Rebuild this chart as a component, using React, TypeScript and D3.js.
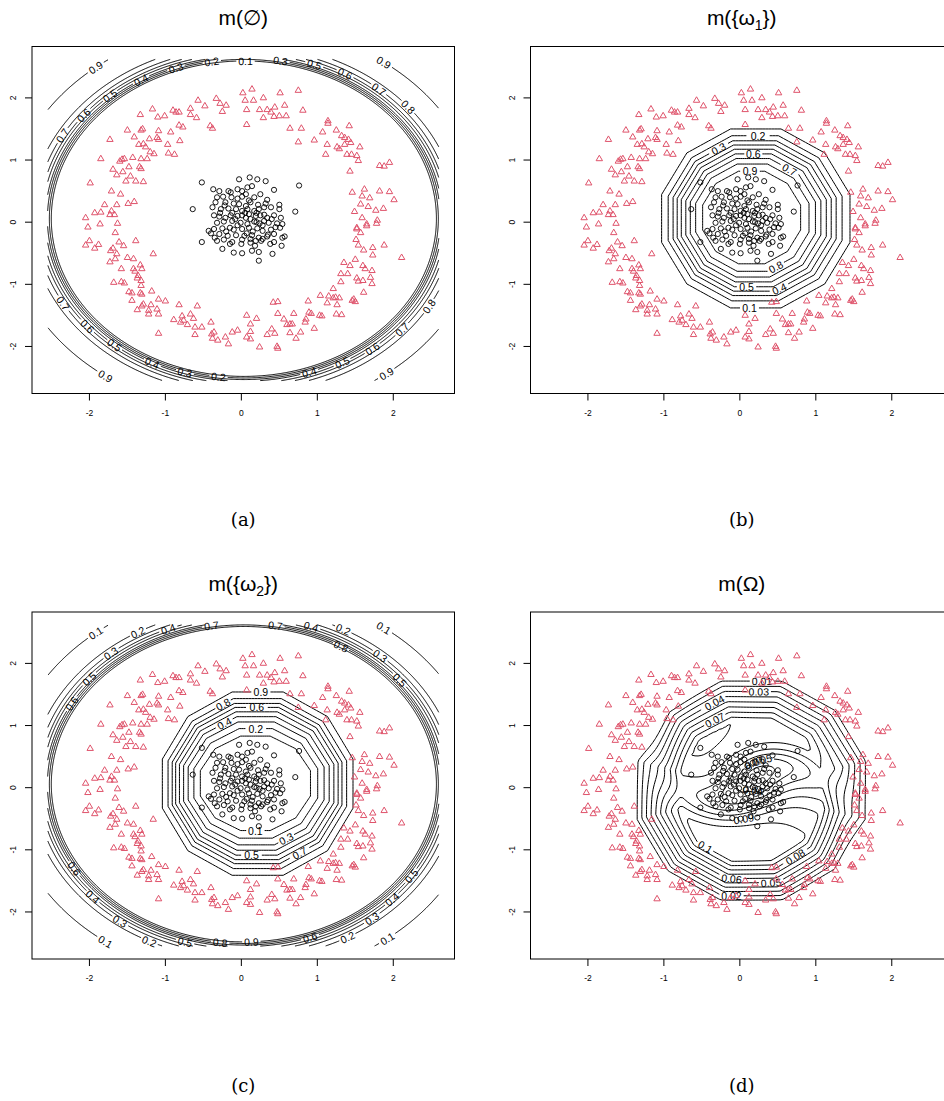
import React, { useMemo } from 'react';
import * as d3 from 'd3';

type P = [number, number];
type Lab = [number, number, number];

// ---------- data ----------
const triangles: P[] = [
  [-0.57,1.96],[-0.33,1.99],[-0.48,1.87],[-0.28,1.91],[-0.20,1.88],[-0.25,1.78],[-1.17,1.82],[-0.90,1.80],[-0.86,1.77],[-0.82,1.77],
  [-0.67,1.83],[-0.67,1.73],[-0.59,1.68],[-1.33,1.73],[-1.10,1.69],[-1.01,1.71],[-1.50,1.48],[-1.32,1.48],[-1.30,1.50],[-1.09,1.47],
  [-0.93,1.45],[-0.82,1.56],[-0.77,1.53],[-0.41,1.55],[-0.38,1.51],[-1.73,1.33],[-1.41,1.37],[-1.21,1.34],[-1.11,1.36],[-1.09,1.33],
  [-0.81,1.31],[-0.97,1.25],[-1.35,1.25],[-1.29,1.26],[-1.26,1.21],[-1.20,1.13],[-1.15,1.10],[-0.96,1.11],[-0.88,1.09],[-1.85,1.02],
  [-1.60,0.98],[-1.57,1.01],[-1.54,1.02],[-1.43,1.04],[-1.32,1.02],[-1.24,1.02],[-1.34,0.89],[-1.32,0.86],[-1.48,0.89],[-1.69,0.85],
  [-1.64,0.76],[-1.56,0.81],[-1.46,0.74],[-1.39,0.66],[-1.29,0.65],[-1.52,0.66],[-1.99,0.63],[-1.71,0.50],[-1.59,0.45],[-1.49,0.30],
  [-1.41,0.33],[-1.80,0.28],[-1.64,0.28],[-1.93,0.15],[-1.85,0.16],[-1.71,0.18],[-1.73,0.12],[-1.67,0.12],[-2.05,0.07],[-1.86,-0.03],
  [-1.63,-0.02],[-2.02,-0.08],
  [-1.66,-0.17],[-2.00,-0.30],[-2.05,-0.37],[-1.88,-0.36],[-1.93,-0.42],[-1.61,-0.32],[-1.55,-0.38],[-1.39,-0.30],[-1.72,-0.46],[-1.69,-0.42],
  [-1.64,-0.51],[-1.73,-0.64],[-1.66,-0.59],[-1.50,-0.57],[-1.42,-0.59],[-1.16,-0.51],[-1.58,-0.75],[-1.42,-0.75],[-1.40,-0.79],[-1.31,-0.75],
  [-1.33,-0.69],[-1.36,-0.86],[-1.37,-0.90],[-1.32,-0.94],[-1.68,-0.97],[-1.58,-0.96],[-1.54,-0.98],[-1.32,-1.02],[-1.48,-1.12],[-1.44,-1.14],
  [-1.33,-1.14],[-1.18,-1.11],[-1.31,-1.16],[-1.44,-1.26],[-1.29,-1.32],[-1.31,-1.35],[-1.19,-1.33],[-1.09,-1.24],[-1.00,-1.27],[-1.37,-1.41],
  [-1.22,-1.42],[-1.22,-1.48],[-1.11,-1.40],[-1.09,-1.48],[-0.82,-1.33],[-0.58,-1.35],[-0.67,-1.48],[-0.89,-1.57],[-0.78,-1.51],[-0.76,-1.58],
  [-0.80,-1.61],[-0.71,-1.65],[-0.63,-1.55],[-0.61,-1.69],[-0.52,-1.69],[-0.40,-1.61],[-0.61,-1.81],[-1.09,-1.79],[-0.39,-1.80],[-0.36,-1.77],
  [-0.38,-1.87],[-0.31,-1.90],[-0.21,-1.85],[-0.17,-1.96],[-0.12,-1.77],[-0.05,-1.74],
  [0.14,2.14],[0.02,2.08],[0.05,1.96],[0.16,1.96],[0.29,2.00],[0.51,2.08],[0.75,2.12],[0.07,1.81],[0.24,1.81],[0.34,1.81],
  [0.39,1.77],[0.44,1.85],[0.57,1.88],[0.81,1.80],[0.29,1.68],[0.43,1.70],[0.50,1.71],[0.59,1.71],[0.07,1.57],[1.14,1.63],
  [1.14,1.59],[0.64,1.51],[0.79,1.51],[1.07,1.45],[1.25,1.48],[1.42,1.55],[0.96,1.32],[1.13,1.25],[0.75,1.29],[1.32,1.39],
  [1.36,1.36],[1.41,1.33],[1.44,1.28],[1.36,1.25],[1.26,1.21],[1.29,1.18],[1.56,1.21],[1.45,1.09],[1.39,1.09],[1.52,1.07],
  [1.54,0.99],[1.11,1.09],[1.82,0.91],[1.88,0.90],[1.95,0.96],[1.43,0.82],[1.62,0.53],[1.46,0.48],[1.82,0.50],[1.95,0.49],
  [1.59,0.42],[1.69,0.39],[2.01,0.36],[1.57,0.29],[1.67,0.25],[1.77,0.19],[1.87,0.22],[1.49,0.17],[1.59,0.07],[1.65,-0.03],
  [1.79,0.03],[1.52,-0.09],
  [1.65,-0.06],[1.78,-0.02],[1.52,-0.11],[1.57,-0.17],[1.51,-0.28],[1.54,-0.37],[1.61,-0.45],[1.73,-0.41],[1.73,-0.53],[1.88,-0.37],
  [2.11,-0.57],[1.35,-0.65],[1.43,-0.70],[1.50,-0.60],[1.63,-0.75],[1.60,-0.70],[1.72,-0.78],[1.70,-0.89],[1.31,-0.83],[1.40,-0.83],
  [1.52,-0.90],[1.54,-0.95],[1.60,-0.94],[1.72,-0.99],[1.31,-0.96],[1.21,-1.07],[1.61,-1.13],[1.04,-1.18],[1.15,-1.19],[1.21,-1.22],
  [1.24,-1.21],[1.29,-1.22],[0.88,-1.27],[1.13,-1.30],[1.26,-1.33],[1.48,-1.24],[1.46,-1.26],[1.50,-1.28],[0.42,-1.29],[0.48,-1.28],
  [0.07,-1.50],[0.20,-1.55],[0.12,-1.64],[0.48,-1.47],[0.69,-1.47],[0.89,-1.45],[0.92,-1.47],[1.03,-1.50],[1.06,-1.51],[1.25,-1.48],
  [1.32,-1.49],[0.56,-1.56],[0.60,-1.65],[0.64,-1.64],[0.67,-1.64],[0.85,-1.56],[0.84,-1.61],[0.96,-1.71],[0.78,-1.77],[0.64,-1.78],
  [0.72,-1.87],[0.40,-1.72],[0.44,-1.79],[0.34,-1.81],[0.12,-1.76],[0.07,-1.85],[0.12,-1.88],[0.24,-2.01],[0.47,-2.00],[0.48,-2.03],
];

const circles: P[] = [
  [-0.52,0.64],[-0.03,0.69],[0.11,0.72],[0.21,0.69],[0.32,0.66],[0.14,0.58],[-0.37,0.53],[-0.29,0.50],[-0.17,0.50],[-0.14,0.48],
  [-0.05,0.53],[0.01,0.50],[0.08,0.56],[0.25,0.45],[0.43,0.52],[0.76,0.59],[-0.32,0.40],[-0.24,0.41],[-0.13,0.40],[0.01,0.41],
  [0.17,0.40],[0.34,0.36],[-0.34,0.32],[-0.21,0.32],[-0.10,0.30],[-0.03,0.29],[0.06,0.26],[0.12,0.32],[-0.64,0.21],[-0.38,0.24],
  [-0.27,0.21],[-0.17,0.22],[-0.07,0.21],[0.01,0.18],[0.08,0.21],[0.17,0.18],[0.23,0.21],[0.30,0.24],[0.39,0.24],[0.50,0.21],
  [0.71,0.17],[-0.36,0.11],[-0.29,0.09],[-0.21,0.07],[-0.14,0.11],[-0.05,0.10],[0.01,0.11],[0.06,0.07],[0.10,0.13],[0.19,0.10],
  [0.25,0.11],[0.34,0.07],[0.43,0.11],[0.52,0.07],[-0.32,-0.01],[-0.23,0.01],[-0.12,0.02],[-0.01,-0.01],[0.08,-0.03],[0.17,0.01],
  [0.24,-0.02],[0.30,0.02],[0.36,-0.01],[0.47,-0.02],[0.54,-0.03],[-0.43,-0.14],[-0.36,-0.11],[-0.25,-0.10],[-0.15,-0.09],[-0.10,-0.12],
  [0.01,-0.11],[0.10,-0.09],[0.21,-0.10],[0.28,-0.14],[0.39,-0.12],[0.51,-0.09],[-0.40,-0.18],[-0.29,-0.19],[-0.18,-0.22],[-0.07,-0.21],
  [0.04,-0.22],[0.14,-0.21],[0.23,-0.25],[0.34,-0.23],[0.43,-0.19],[0.54,-0.25],[0.57,-0.23],[-0.52,-0.32],[-0.32,-0.30],[-0.23,-0.28],
  [-0.12,-0.32],[0.01,-0.28],[0.12,-0.33],[0.19,-0.30],[0.28,-0.27],[0.43,-0.32],[-0.25,-0.43],[-0.10,-0.49],[0.01,-0.50],[0.14,-0.46],
  [0.23,-0.48],[0.41,-0.51],[0.53,-0.38],[0.23,-0.62],
  [0.05,0.15],[0.12,0.05],[0.20,0.00],[0.28,-0.05],[0.15,-0.15],[0.07,-0.18],[-0.05,-0.05],[-0.12,0.15],[0.22,0.28],[0.30,0.12],
  [0.35,-0.20],[0.18,-0.38],[-0.20,-0.15],[-0.28,0.15],[0.40,0.05],[0.10,0.35],[-0.05,0.38],[0.26,-0.30],[0.45,-0.08],[-0.35,-0.25],
  [0.00,-0.35],[0.32,0.30],[-0.15,-0.35],[0.06,0.45],[-0.22,0.27],[0.50,0.28],[0.20,0.15],[-0.08,0.05],[0.12,-0.27],[0.38,-0.35],
];

const xTicks = [-2, -1, 0, 1, 2];
const yTicks = [-2, -1, 0, 1, 2];
const massLevels = [0.1, 0.2, 0.3, 0.4, 0.5, 0.6, 0.7, 0.8, 0.9];
const omegaLevels = [0.01, 0.02, 0.03, 0.04, 0.05, 0.06, 0.07, 0.08, 0.09, 0.1];

const gridX: P = [-2.55, 2.6];
const gridY: P = [-2.55, 2.62];
const xDomain: P = [-2.756, 2.806];
const yDomain: P = [-2.757, 2.827];

// outer elliptical contours (m(∅) and outer part of m({ω2}))
const ringCenter: P = [0.033, 0.056];
const ringAxes: P = [2.535, 2.538];
const emptyRingScale = [1.0, 1.01, 1.02, 1.03, 1.045, 1.06, 1.08, 1.11, 1.23];
const omega2RingScale = [1.23, 1.11, 1.08, 1.06, 1.045, 1.03, 1.02, 1.01, 1.0];

// polygonal contours around the circle class
const omega1Inner = { cx: 0.155, cy: 0.075, w: 0.645, h: 0.745 };
const omega1Outer = { cx: 0.21, cy: 0.06, w: 1.24, h: 1.44 };
const omega1Spread = [1.0, 0.84, 0.72, 0.62, 0.52, 0.41, 0.30, 0.17, 0.0];
const omega2Inner = { cx: 0.185, cy: 0.07, w: 0.725, h: 0.76 };
const omega2Outer = { cx: 0.215, cy: 0.065, w: 1.255, h: 1.475 };
const omega2Spread = [0.0, 0.17, 0.32, 0.44, 0.55, 0.65, 0.74, 0.85, 1.0];

// m(Ω) surface description
const omegaShape = { cx: 0.155, cy: -0.04, w: 1.5, h: 1.76 };
const omegaRidge = { base: 0.098, amp: 0.01, dir: -2.0, inner: 0.62, outer: 1.045 };
const omegaDip = { cx: 0.15, cy: 0.05, depth: 0.056, radius: 0.55, arm: 0.72, twist: 2.4, phase: -2.4 };

// contour labels: [level, x, y]
const emptyLabels: Lab[] = [
  [0.9,-1.92,2.49],[0.9,-1.78,-2.47],[0.9,1.83,2.49],[0.9,1.89,-2.41],[0.8,2.16,1.81],[0.8,2.46,-1.35],
  [0.7,1.78,2.09],[0.7,-2.38,1.41],[0.7,-2.37,-1.32],[0.7,2.11,-1.72],[0.6,1.34,2.33],[0.6,-2.08,1.73],
  [0.6,-2.04,-1.69],[0.6,1.71,-2.01],[0.5,0.95,2.49],[0.5,-1.72,2.01],[0.5,-1.66,-1.96],[0.5,1.32,-2.25],
  [0.4,-1.32,2.30],[0.4,-1.16,-2.23],[0.4,0.91,-2.47],[0.3,0.51,2.57],[0.3,-0.86,2.49],[0.3,-0.74,-2.39],
  [0.2,-0.39,2.57],[0.2,-0.30,-2.52],[0.1,0.05,2.54],
];
const omega1Labels: Lab[] = [
  [0.2,0.23,1.34],[0.3,-0.29,1.18],[0.6,0.19,1.06],[0.7,0.61,0.77],[0.9,0.14,0.69],
  [0.8,0.50,-0.75],[0.5,0.08,-0.98],[0.4,0.50,-1.05],[0.1,0.14,-1.30],
];
const omega2Labels: Lab[] = [
  [0.1,-1.92,2.48],[0.2,-1.36,2.50],[0.4,-0.96,2.53],[0.7,-0.39,2.58],[0.7,0.45,2.58],[0.4,0.91,2.54],
  [0.2,1.32,2.50],[0.1,1.83,2.48],[0.8,1.28,2.18],[0.3,1.78,2.05],[0.5,2.04,1.68],[0.3,-1.72,2.16],
  [0.5,-2.01,1.76],[0.6,-2.24,1.36],[0.6,-2.24,-1.33],[0.4,-1.95,-1.74],[0.3,-1.59,-2.13],[0.1,-1.78,-2.45],
  [0.2,-1.20,-2.45],[0.5,-0.74,-2.46],[0.8,-0.28,-2.51],[0.9,0.13,-2.51],[0.6,0.91,-2.45],[0.2,1.41,-2.45],
  [0.1,1.89,-2.38],[0.3,1.71,-2.10],[0.4,1.97,-1.78],[0.5,2.20,-1.38],
  [0.9,0.25,1.50],[0.8,-0.24,1.30],[0.6,0.22,1.23],[0.4,-0.25,1.06],[0.2,0.18,0.94],
  [0.1,0.18,-0.77],[0.3,0.61,-0.90],[0.5,0.14,-1.09],[0.7,0.80,-1.10],
];
const omegaLabels: Lab[] = [
  [0.01,0.28,1.69],[0.03,0.23,1.42],[0.04,-0.29,1.29],[0.07,-0.29,1.02],[0.05,0.23,0.70],[0.05,0.19,0.44],
  [0.04,0.23,-0.50],[0.09,0.10,-0.82],[0.08,0.58,-0.84],[0.1,-0.47,-0.98],[0.06,-0.12,-1.30],[0.05,0.39,-1.32],
  [0.02,-0.12,-1.59],
];

// ---------- geometry helpers ----------
type Line = { level: number; pts: P[] };

function ellipseLines(level: number, s: number): Line[] {
  const N = 1440;
  const pts: P[] = d3.range(N).map((i) => {
    const a = (2 * Math.PI * i) / N;
    return [ringCenter[0] + ringAxes[0] * s * Math.cos(a), ringCenter[1] + ringAxes[1] * s * Math.sin(a)] as P;
  });
  const inside = (p: P) => p[0] >= gridX[0] && p[0] <= gridX[1] && p[1] >= gridY[0] && p[1] <= gridY[1];
  const start = pts.findIndex((p) => !inside(p));
  if (start < 0) return [{ level, pts: [...pts, pts[0]] }];
  const out: Line[] = [];
  let cur: P[] = [];
  for (let k = 0; k < N; k++) {
    const p = pts[(start + k) % N];
    if (inside(p)) cur.push(p);
    else {
      if (cur.length > 1) out.push({ level, pts: cur });
      cur = [];
    }
  }
  if (cur.length > 1) out.push({ level, pts: cur });
  return out;
}

function polyVerts(cx: number, cy: number, w: number, h: number): P[] {
  const k = 1 / Math.cos(Math.PI / 12);
  return d3.range(12).map((i) => {
    const a = ((15 + 30 * i) * Math.PI) / 180;
    return [cx + w * k * Math.cos(a), cy + h * k * Math.sin(a)] as P;
  });
}

function polygonLine(level: number, inner: any, outer: any, t: number): Line {
  const L = (a: number, b: number) => a + (b - a) * t;
  const V = polyVerts(L(inner.cx, outer.cx), L(inner.cy, outer.cy), L(inner.w, outer.w), L(inner.h, outer.h));
  const pts: P[] = [];
  V.forEach((v, i) => {
    const u = V[(i + 1) % V.length];
    for (let j = 0; j < 16; j++) pts.push([v[0] + ((u[0] - v[0]) * j) / 16, v[1] + ((u[1] - v[1]) * j) / 16]);
  });
  pts.push(pts[0]);
  return { level, pts };
}

function polyNorm(shape: { cx: number; cy: number; w: number; h: number }) {
  const V = polyVerts(0, 0, shape.w, shape.h);
  const edges = V.map((v, i) => {
    const u = V[(i + 1) % V.length];
    let nx = u[1] - v[1];
    let ny = -(u[0] - v[0]);
    const l = Math.hypot(nx, ny);
    nx /= l;
    ny /= l;
    const d = nx * v[0] + ny * v[1];
    return [nx / d, ny / d];
  });
  return (x: number, y: number) => {
    const px = x - shape.cx;
    const py = y - shape.cy;
    let m = -Infinity;
    for (const e of edges) m = Math.max(m, e[0] * px + e[1] * py);
    return m;
  };
}

function omegaLines(): Line[] {
  const step = 0.04;
  const n = Math.ceil((gridX[1] - gridX[0]) / step) + 1;
  const m = Math.ceil((gridY[1] - gridY[0]) / step) + 1;
  const norm = polyNorm(omegaShape);
  const vals = new Array(n * m);
  for (let j = 0; j < m; j++) {
    for (let i = 0; i < n; i++) {
      const x = gridX[0] + i * step;
      const y = gridY[0] + j * step;
      const rho = norm(x, y);
      const s = Math.min(1, Math.max(0, (omegaRidge.outer - rho) / (omegaRidge.outer - omegaRidge.inner)));
      const th = Math.atan2(y - omegaShape.cy, x - omegaShape.cx);
      const A = omegaRidge.base + omegaRidge.amp * Math.cos(th - omegaRidge.dir);
      const dx = x - omegaDip.cx;
      const dy = y - omegaDip.cy;
      const r = Math.hypot(dx, dy);
      const t2 = Math.atan2(dy, dx);
      const e = 1 - omegaDip.arm * Math.cos(2 * t2 + omegaDip.twist * r + omegaDip.phase);
      const D = omegaDip.depth * Math.exp(-((r / omegaDip.radius) ** 2) * e);
      vals[i + j * n] = A * s - D;
    }
  }
  const cs = d3.contours().size([n, m]).thresholds(omegaLevels.map((l) => l - 1e-9))(vals);
  const out: Line[] = [];
  cs.forEach((c, k) => {
    const level = omegaLevels[k];
    c.coordinates.forEach((poly) =>
      poly.forEach((ring) => {
        out.push({
          level,
          pts: ring.map((q) => [gridX[0] + (q[0] - 0.5) * step, gridY[0] + (q[1] - 0.5) * step] as P),
        });
      })
    );
  });
  return out;
}

const fmt = (v: number) => String(+v.toFixed(2));
const LABEL_FS = 10.5;
const textW = (s: string) => s.split('').reduce((a, ch) => a + (ch === '.' ? 0.278 : 0.556), 0) * LABEL_FS;

function layout(lines: Line[], labels: Lab[]) {
  const hidden = lines.map((l) => new Uint8Array(l.pts.length));
  const placed: { x: number; y: number; ang: number; text: string }[] = [];
  for (const [lev, lx, ly] of labels) {
    let best: [number, number] | null = null;
    let bd = Infinity;
    lines.forEach((l, li) => {
      if (Math.abs(l.level - lev) > 1e-9) return;
      l.pts.forEach((p, pi) => {
        const d = (p[0] - lx) ** 2 + (p[1] - ly) ** 2;
        if (d < bd) {
          bd = d;
          best = [li, pi];
        }
      });
    });
    if (!best || bd > 45 * 45) continue;
    const [li, pi] = best as [number, number];
    const pts = lines[li].pts;
    const p = pts[pi];
    const a = pts[Math.max(0, pi - 3)];
    const b = pts[Math.min(pts.length - 1, pi + 3)];
    let ang = (Math.atan2(b[1] - a[1], b[0] - a[0]) * 180) / Math.PI;
    if (ang > 90) ang -= 180;
    if (ang < -90) ang += 180;
    const text = fmt(lev);
    const hw = textW(text) / 2 + 1.5;
    pts.forEach((q, qi) => {
      if (Math.hypot(q[0] - p[0], q[1] - p[1]) < hw) hidden[li][qi] = 1;
    });
    placed.push({ x: p[0], y: p[1], ang, text });
  }
  const segs: P[][] = [];
  lines.forEach((l, li) => {
    let cur: P[] = [];
    l.pts.forEach((p, pi) => {
      if (hidden[li][pi]) {
        if (cur.length > 1) segs.push(cur);
        cur = [];
      } else cur.push(p);
    });
    if (cur.length > 1) segs.push(cur);
  });
  return { segs, placed };
}

const SANS = '"Liberation Sans", Arial, Helvetica, sans-serif';
const SERIF = '"DejaVu Serif", "Liberation Serif", serif';
const RED = '#DF536B';

function Panel({ ox, oy, lines, labels, title, caption }: { ox: number; oy: number; lines: Line[]; labels: Lab[]; title: React.ReactNode; caption: string }) {
  const x = d3.scaleLinear().domain(xDomain).range([32 + ox, 454.5 + ox]);
  const y = d3.scaleLinear().domain(yDomain).range([393.5 + oy, 46.5 + oy]);
  const pxLines: Line[] = lines.map((l) => ({ level: l.level, pts: l.pts.map((p) => [x(p[0]), y(p[1])] as P) }));
  const pxLabels: Lab[] = labels.map((l) => [l[0], x(l[1]), y(l[2])]);
  const { segs, placed } = layout(pxLines, pxLabels);
  const line = d3.line<P>().x((d) => d[0]).y((d) => d[1]);
  const x0 = x(xDomain[0]), x1 = x(xDomain[1]), y0 = y(yDomain[1]), y1 = y(yDomain[0]);
  const cx = (x0 + x1) / 2;
  return (
    <g>
      <text x={cx} y={25 + oy} textAnchor="middle" fontFamily={SANS} fontSize={21}>{title}</text>
      <rect x={x0} y={y0} width={x1 - x0} height={y1 - y0} fill="none" stroke="#000" strokeWidth={1} />
      {xTicks.map((t) => (
        <g key={'x' + t}>
          <line x1={x(t)} x2={x(t)} y1={y1} y2={y1 + 7} stroke="#000" />
          <text x={x(t)} y={y1 + 22} textAnchor="middle" fontFamily={SANS} fontSize={8.5}>{t}</text>
        </g>
      ))}
      {yTicks.map((t) => (
        <g key={'y' + t}>
          <line x1={x0} x2={x0 - 7} y1={y(t)} y2={y(t)} stroke="#000" />
          <text transform={`translate(${x0 - 16},${y(t)}) rotate(-90)`} textAnchor="middle" fontFamily={SANS} fontSize={8.5}>{t}</text>
        </g>
      ))}
      <g fill="none" stroke="#000" strokeWidth={1}>
        {segs.map((s, i) => <path key={i} d={line(s) || ''} />)}
      </g>
      <g fontFamily={SANS} fontSize={LABEL_FS}>
        {placed.map((p, i) => (
          <text key={i} transform={`translate(${p.x},${p.y}) rotate(${p.ang})`} textAnchor="middle" dominantBaseline="central">{p.text}</text>
        ))}
      </g>
      <g fill="none" stroke={RED} strokeWidth={1}>
        {triangles.map((p, i) => (
          <path key={i} d={`M${x(p[0])},${y(p[1]) - 3.6}L${x(p[0]) + 3.2},${y(p[1]) + 1.9}L${x(p[0]) - 3.2},${y(p[1]) + 1.9}Z`} />
        ))}
      </g>
      <g fill="none" stroke="#000" strokeWidth={0.9}>
        {circles.map((p, i) => <circle key={i} cx={x(p[0])} cy={y(p[1])} r={2.6} />)}
      </g>
      <text x={cx} y={526 + oy} textAnchor="middle" fontFamily={SERIF} fontSize={18}>{caption}</text>
    </g>
  );
}

export default function App() {
  const data = useMemo(() => {
    const a: Line[] = massLevels.flatMap((l, i) => ellipseLines(l, emptyRingScale[i]));
    const b: Line[] = massLevels.map((l, i) => polygonLine(l, omega1Inner, omega1Outer, omega1Spread[i]));
    const c: Line[] = [
      ...massLevels.flatMap((l, i) => ellipseLines(l, omega2RingScale[i])),
      ...massLevels.map((l, i) => polygonLine(l, omega2Inner, omega2Outer, omega2Spread[i])),
    ];
    const d: Line[] = omegaLines();
    return { a, b, c, d };
  }, []);
  const sub = (s: string) => <tspan fontSize={14} dy={5}>{s}</tspan>;
  return (
    <svg width={944} height={1101} style={{ position: 'absolute', left: 0, top: 0, background: '#fff' }}>
      <rect width={944} height={1101} fill="#fff" />
      <Panel ox={0} oy={0} lines={data.a} labels={emptyLabels} title={<>m(∅)</>} caption="(a)" />
      <Panel ox={498.5} oy={0} lines={data.b} labels={omega1Labels} title={<>m({'{'}ω{sub('1')}<tspan dy={-5}>{'})'}</tspan></>} caption="(b)" />
      <Panel ox={0} oy={565.5} lines={data.c} labels={omega2Labels} title={<>m({'{'}ω{sub('2')}<tspan dy={-5}>{'})'}</tspan></>} caption="(c)" />
      <Panel ox={498.5} oy={565.5} lines={data.d} labels={omegaLabels} title={<>m(Ω)</>} caption="(d)" />
    </svg>
  );
}
